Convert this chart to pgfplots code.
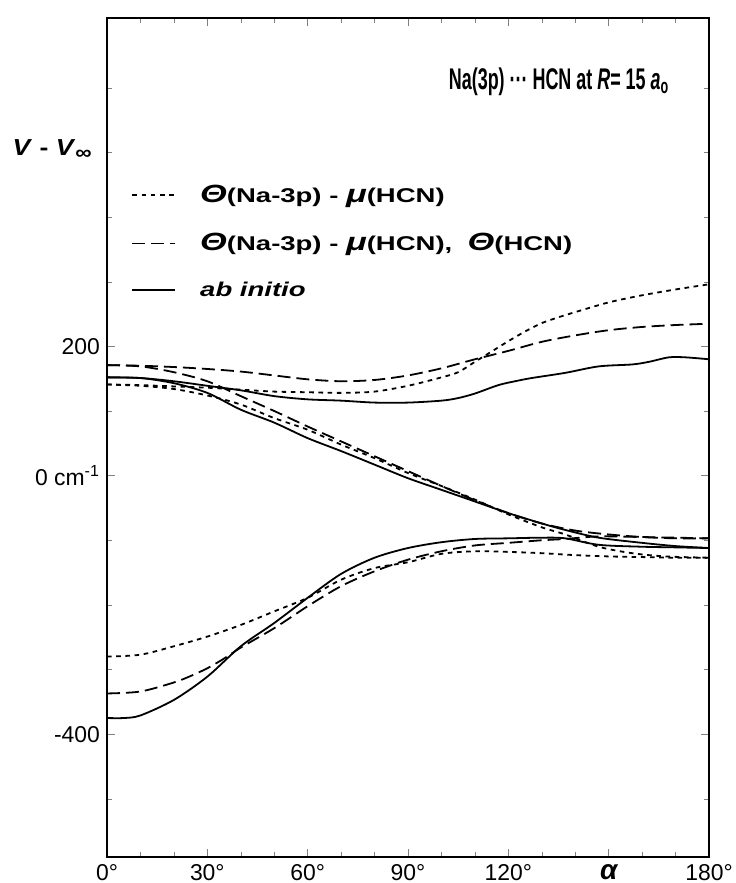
\documentclass[border=0pt]{standalone}
\usepackage{fontspec}
\setmainfont{Liberation Sans}
\newfontfamily\mytitlefont{Liberation Sans}[FakeStretch=0.6]
\newfontfamily\mylegendfont{Liberation Sans}[FakeStretch=1.38]
\newfontfamily\mylabelfont{Liberation Sans}[FakeStretch=1.15]
\usepackage{pgfplots}
\pgfplotsset{compat=1.18}

% line styles of the three approximations
\tikzset{
  dotsty/.style={black, line width=0.9bp, dash pattern=on 2.3bp off 2.3bp},
  dashsty/.style={black, line width=0.9bp, dash pattern=on 6.5bp off 3bp},
  solsty/.style={black, line width=0.9bp},
}
\newcommand{\bigsym}[1]{{\fontsize{12.5}{13}\selectfont\itshape #1}}

\begin{document}
\begin{tikzpicture}
\begin{axis}[
  name=ax,
  width=301bp, height=419.5bp, scale only axis,
  xmin=0, xmax=180, ymin=-590, ymax=708,
  clip mode=individual,
  xtick={0,30,60,90,120,150,180},
  xticklabels={0°,30°,60°,90°,120°,{\bfseries\itshape\fontsize{14}{14}\selectfont α},180°},
  minor xtick={10,20,40,50,70,80,100,110,130,140,160,170},
  ytick={-400,0,200},
  yticklabels={-400,0 cm\textsuperscript{-1},200},
  minor ytick={-500,-300,-200,-100,100,300,400,500,600},
  tick align=inside,
  major tick length=4bp, minor tick length=2.5bp,
  axis line style={line width=1bp},
  tick label style={font=\fontsize{11.5}{12}\selectfont},
  legend cell align=left,
  legend style={draw=none, fill=none, at={(0.03,0.811)}, anchor=north west,
    font=\mylegendfont\fontsize{10}{11}\selectfont\bfseries, row sep=10bp},
  legend image code/.code={\draw[#1] (0bp,0bp) -- (21.5bp,0bp);},
]
\addlegendimage{dotsty}
\addlegendentry{\hspace{10bp}\bigsym{Θ}(Na-3p) - \bigsym{μ}(HCN)}
\addlegendimage{dashsty}
\addlegendentry{\hspace{10bp}\bigsym{Θ}(Na-3p) - \bigsym{μ}(HCN),\ \ \bigsym{Θ}(HCN)}
\addlegendimage{solsty}
\addlegendentry{\hspace{10bp}\itshape ab initio}

% upper state
\addplot[dashsty, smooth, forget plot] coordinates {
 (0,171)(10,170)(20,168)(30,165)(40,161)(50,155)(60,149)(70,146)(80,148)(90,155)
 (100,166)(110,180)(120,193)(130,207)(140,217)(150,225)(160,230)(170,233)(180,235)};
\addplot[dotsty, smooth, forget plot] coordinates {
 (0,141)(10,140)(20,138)(30,136)(40,133)(50,130)(60,129)(70,128)(80,130)(90,139)
 (100,152)(105,160)(110,176)(115,192)(120,208)(125,223)(130,236)(135,245)(140,253)
 (150,268)(160,279)(170,288)(180,296)};
\addplot[solsty, smooth, forget plot] coordinates {
 (0,152)(10,151)(20,146)(30,139)(40,132)(50,123)(60,118)(70,116)(80,113)(90,113)
 (100,116)(105,120)(110,127)(117,140)(122,146)(127,151)(137,159)(147,169)(157,172)
 (162,176)(168,183)(173,183)(180,180)};

% middle state
\addplot[dashsty, smooth, forget plot] coordinates {
 (0,171)(10,169)(20,160)(30,146)(40,123)(50,100)(60,76)(70,53)(80,30)(90,7)
 (100,-16)(110,-38)(120,-58)(130,-74)(140,-85)(150,-91)(160,-95)(170,-97)(180,-97)};
\addplot[dotsty, smooth, forget plot] coordinates {
 (0,141)(10,139)(20,134)(30,124)(40,110)(50,89)(60,71)(70,48)(80,27)(90,4)
 (100,-16)(110,-37)(120,-60)(130,-80)(137,-91)(147,-110)(157,-120)(167,-125)(180,-127)};
\addplot[solsty, smooth, forget plot] coordinates {
 (0,152)(10,151)(20,143)(30,128)(40,102)(50,82)(60,58)(70,38)(80,17)(90,-4)
 (100,-22)(110,-40)(120,-58)(130,-74)(137,-84)(147,-96)(160,-104)(170,-109)(180,-112)};

% lower state
\addplot[dashsty, smooth, forget plot] coordinates {
 (0,-337)(10,-334)(20,-320)(25,-310)(30,-298)(35,-283)(40,-266)(50,-236)(60,-202)(70,-171)(80,-148)(90,-130)
 (100,-117)(110,-108)(120,-104)(130,-100)(137,-98)(147,-94)(160,-95)(170,-96)(180,-97)};
\addplot[dotsty, smooth, forget plot] coordinates {
 (0,-280)(10,-277)(20,-264)(30,-249)(40,-231)(50,-210)(60,-189)(70,-161)(80,-143)(90,-134)
 (100,-121)(110,-117)(120,-118)(130,-120)(140,-123)(150,-125)(160,-126)(170,-127)(180,-127)};
\addplot[solsty, smooth, forget plot] coordinates {
 (0,-375)(5,-375)(10,-371)(20,-347)(30,-311)(40,-264)(50,-228)(60,-189)(70,-152)(80,-127)(90,-112)
 (100,-103)(110,-98)(120,-97)(130,-96)(137,-97)(147,-107)(160,-110)(170,-111)(180,-112)};

\node[font=\mytitlefont\bfseries\fontsize{15}{16}\selectfont] at (rel axis cs:0.751,0.924)
  {Na(3p) ··· HCN at \textit{R}= 15 \textit{a}\textsubscript{o}};
\node[font=\mylabelfont\bfseries\fontsize{11.6}{14}\selectfont] at (rel axis cs:-0.091,0.843)
  {\textit{V} - \textit{V}\raisebox{-2bp}{\fontsize{10}{10}\selectfont ∞}};
\end{axis}
\pgfresetboundingbox
\path (ax.south west) ++(-53.5bp,-13bp) rectangle ++(368bp,441.5bp);
\end{tikzpicture}
\end{document}
